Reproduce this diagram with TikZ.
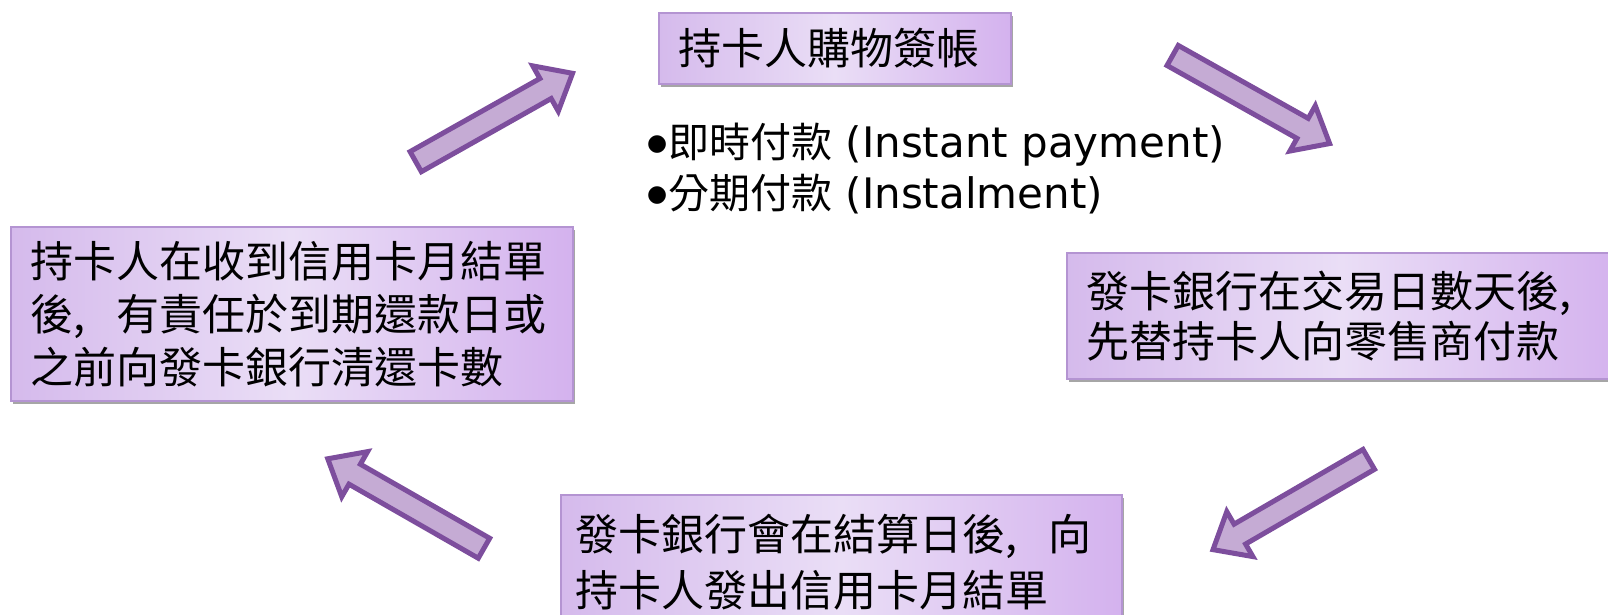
\documentclass[tikz,border=0pt]{standalone}
\usepackage{fontspec}
\setmainfont{DejaVu Sans}
\newfontfamily\cjk{Noto Sans CJK TC}
\usetikzlibrary{shadows}
\definecolor{arrfill}{RGB}{197,171,212}
\definecolor{arrline}{RGB}{125,78,157}
\definecolor{boxline}{RGB}{180,148,210}
\definecolor{boxL}{RGB}{213,186,236}
\definecolor{boxM}{RGB}{234,222,246}
\definecolor{boxR}{RGB}{212,178,238}
\newcommand{\fwcomma}{\makebox[1em][l]{,}}
\tikzset{
  purplebox/.style={draw=boxline, line width=1.5pt, left color=boxL, right color=boxR, middle color=boxM,
    drop shadow={shadow xshift=2.5pt, shadow yshift=-3.5pt, fill=black, opacity=0.35},
    inner xsep=20pt, inner ysep=0pt, align=left, anchor=north west, font=\cjk\fontsize{43}{53}\selectfont},
  arrowstyle/.style={fill=arrfill, draw=arrline, line width=5pt, line join=miter},
  barrow/.pic={\draw[arrowstyle] (-91,-11.5) -- (58,-11.5) -- (58,-26) -- (89,0) -- (58,26) -- (58,11.5) -- (-91,11.5) -- cycle;},
  bullettext/.style={anchor=base west, inner sep=0pt, font=\fontsize{42}{51}\selectfont}
}
\newcommand{\bul}{{\fontsize{23}{23}\selectfont\raisebox{7pt}{●}\hspace{1pt}}}
\begin{document}
\begin{tikzpicture}[x=1pt,y=-1pt]
\useasboundingbox (0,0) rectangle (1608,614);
% boxes
\node[purplebox, minimum width=352pt, minimum height=71pt, text width=312pt] (top) at (658,12) {持卡人購物簽帳};
\node[purplebox, minimum width=562pt, minimum height=174pt, text width=522pt] (left) at (10,226)
  {持卡人在收到信用卡月結單\\後\fwcomma 有責任於到期還款日或\\之前向發卡銀行清還卡數};
\node[purplebox, minimum width=550pt, minimum height=126pt, text width=510pt, font=\cjk\fontsize{43}{50}\selectfont] (right) at (1066,252)
  {發卡銀行在交易日數天後,\\先替持卡人向零售商付款};
\node[purplebox, inner xsep=15pt, minimum width=561pt, minimum height=134pt, text width=531pt, font=\cjk\fontsize{43}{56}\selectfont] (bottom) at (560,494)
  {發卡銀行會在結算日後\fwcomma 向\\持卡人發出信用卡月結單};
% bullet text
\node[bullettext] (b1) at (647,157) {\bul{\cjk\fontsize{41}{51}\selectfont 即時付款} (Instant payment)};
\node[bullettext] (b2) at (647,208) {\bul{\cjk\fontsize{41}{51}\selectfont 分期付款} (Instalment)};
% block arrows
\pic[rotate=29.4] (a1) at (495,117) {barrow};
\pic[rotate=-29.3] (a2) at (1252,100) {barrow};
\pic[rotate=210.1] (a3) at (1290,505) {barrow};
\pic[rotate=150.2] (a4) at (405,503) {barrow};
\end{tikzpicture}
\end{document}
